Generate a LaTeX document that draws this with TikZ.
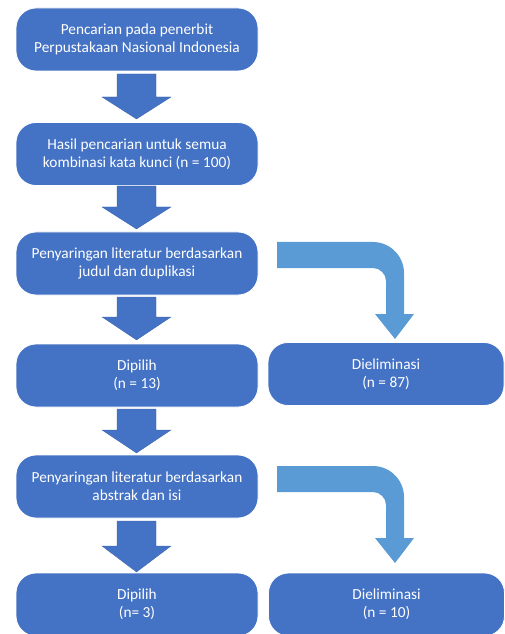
\documentclass[tikz,border=0pt]{standalone}
\usepackage{fontspec}
\setmainfont{Carlito}
\definecolor{boxblue}{HTML}{4472C4}
\definecolor{bentblue}{HTML}{5B9BD5}
\newcommand\dnarrow[3]{\path[downarr] (117,#1) -- (156,#1) -- (156,#2) -- (171,#2) -- (136.5,#3) -- (102,#2) -- (117,#2) -- cycle;}
\begin{document}
\begin{tikzpicture}[x=0.75pt,y=-0.75pt,
  box/.style={fill=boxblue,draw=white,line width=0.6pt,rounded corners=15pt,
    minimum width=181.5pt,minimum height=47.25pt,inner sep=0pt,align=center,
    text=white,font=\fontsize{11.5}{13.5}\selectfont},
  rbox/.style={box,minimum width=177pt},
  downarr/.style={fill=boxblue,draw=boxblue!85!black,line width=0.2pt},
  bentarr/.pic={\path[fill=bentblue] (0,0) -- (96,0) .. controls (113,0) and (127,14) .. (127,31)
      -- (127,72) -- (137,72) -- (118,97) -- (98,72) -- (109,72) -- (109,39)
      .. controls (109,32) and (103,26) .. (96,26) -- (0,26) -- cycle;}]
\useasboundingbox (0,0) rectangle (505,634);
\clip (0,0) rectangle (505,634);
\node[box] (b1) at (137,39.5) {Pencarian pada penerbit\\Perpustakaan Nasional Indonesia};
\node[box] (b2) at (137,154) {Hasil pencarian untuk semua\\kombinasi kata kunci (n = 100)};
\node[box] (b3) at (137,263.5) {Penyaringan literatur berdasarkan\\judul dan duplikasi};
\node[box] (b4) at (137,375.5) {Dipilih\\(n = 13)};
\node[rbox] (e1) at (386,374) {Dieliminasi\\(n = 87)};
\node[box] (b5) at (137,486.5) {Penyaringan literatur berdasarkan\\abstrak dan isi};
\node[box] (b6) at (137,604.5) {Dipilih\\(n= 3)};
\node[rbox] (e2) at (386.5,604.5) {Dieliminasi\\(n = 10)};
\dnarrow{74}{97}{119}
\dnarrow{186}{207}{229}
\dnarrow{297}{317}{340}
\dnarrow{409}{430}{453}
\dnarrow{521}{546}{572}
\pic at (277,242) {bentarr};
\pic at (277,466) {bentarr};
\end{tikzpicture}
\end{document}
